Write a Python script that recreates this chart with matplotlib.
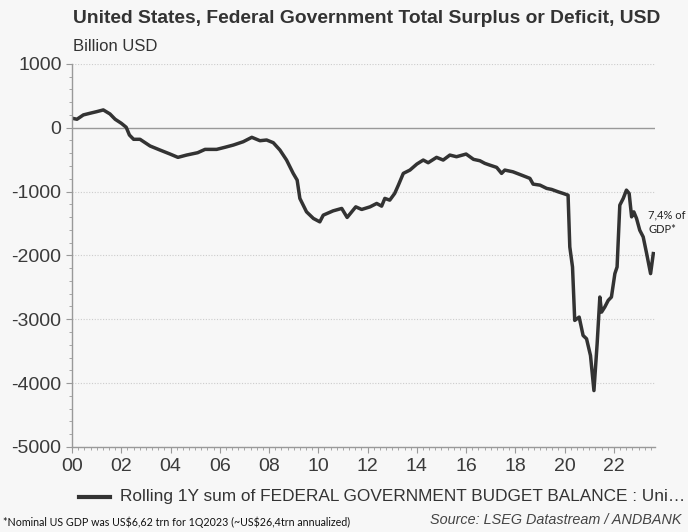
import numpy as np
import matplotlib
matplotlib.use("Agg")
import matplotlib.pyplot as plt
from matplotlib.ticker import MultipleLocator

# traced rolling 1Y budget balance, billion USD (x = decimal year)
years = [2000.0, 2000.2, 2000.46, 2000.73, 2001.0, 2001.27, 2001.54, 2001.75, 2002.0, 2002.2,
         2002.33, 2002.5, 2002.76, 2003.17, 2003.57, 2003.98, 2004.3, 2004.65, 2005.1, 2005.4,
         2005.87, 2006.2, 2006.55, 2006.95, 2007.3, 2007.63, 2007.9, 2008.17, 2008.44, 2008.71,
         2008.98, 2009.14, 2009.25, 2009.52, 2009.8, 2010.06, 2010.2, 2010.6, 2010.95, 2011.17,
         2011.52, 2011.76, 2012.1, 2012.37, 2012.57, 2012.7, 2012.9, 2013.1, 2013.25, 2013.45,
         2013.72, 2014.0, 2014.26, 2014.46, 2014.8, 2015.07, 2015.34, 2015.61, 2016.0, 2016.3,
         2016.56, 2016.76, 2016.96, 2017.24, 2017.44, 2017.57, 2017.9, 2018.25, 2018.59, 2018.72,
         2019.0, 2019.27, 2019.47, 2019.74, 2019.94, 2020.14, 2020.21, 2020.32, 2020.41, 2020.59,
         2020.75, 2020.89, 2021.05, 2021.19, 2021.32, 2021.43, 2021.5, 2021.63, 2021.77, 2021.9,
         2022.04, 2022.13, 2022.24, 2022.38, 2022.51, 2022.62, 2022.72, 2022.81, 2022.92, 2023.05,
         2023.19, 2023.33, 2023.49, 2023.6]
balance = [148, 132, 200, 226, 251, 278, 215, 132, 69, 6,
           -115, -182, -182, -287, -350, -413, -465, -429, -392, -340,
           -340, -308, -272, -220, -151, -204, -193, -235, -350, -507,
           -716, -821, -1108, -1318, -1422, -1475, -1370, -1303, -1265, -1406,
           -1240, -1281, -1240, -1187, -1229, -1108, -1135, -1030, -900, -716,
           -664, -570, -507, -549, -465, -507, -429, -455, -413, -496,
           -518, -559, -586, -622, -716, -664, -691, -743, -794, -884,
           -900, -951, -967, -1005, -1030, -1057, -1868, -2182, -3019, -2967,
           -3255, -3307, -3569, -4118, -3385, -2653, -2889, -2810, -2705, -2653,
           -2286, -2182, -1214, -1108, -978, -1030, -1397, -1319, -1422, -1606,
           -1711, -1972, -2286, -1972]
xtick_years = list(range(2000, 2023, 2))
xtick_labels = ["%02d" % (y % 100) for y in xtick_years]
ytick_vals = list(range(-5000, 1001, 1000))

bg = "#f7f7f7"
fig = plt.figure(figsize=(6.88, 5.32), dpi=100, facecolor=bg)
ax = fig.add_axes([0.1047, 0.160, 0.847, 0.720], facecolor=bg)

ax.plot(years, balance, color="#333333", lw=2.5, solid_joinstyle="round")
ax.axhline(0, color="#999999", lw=1, zorder=0)

ax.set_xlim(2000, 2023.66)
ax.set_ylim(-5000, 1000)
ax.set_xticks(xtick_years)
ax.set_xticklabels(xtick_labels)
ax.xaxis.set_minor_locator(MultipleLocator(0.25))
ax.set_yticks(ytick_vals)
ax.set_yticklabels([str(v) for v in ytick_vals])
ax.yaxis.set_minor_locator(MultipleLocator(200))

for v in ytick_vals:
    if v != 0:
        ax.axhline(v, color="#cccccc", lw=0.8, ls=(0, (1, 1.5)), zorder=0)

for s in ["top", "right"]:
    ax.spines[s].set_visible(False)
for s in ["left", "bottom"]:
    ax.spines[s].set_color("#999999")
    ax.spines[s].set_linewidth(1)

ax.tick_params(axis="both", which="major", colors="#999999", labelcolor="#3a3a3a",
               labelsize=14, length=4)
ax.tick_params(axis="both", which="minor", colors="#999999", length=2)
ax.tick_params(axis="x", pad=4)
for lab in ax.get_xticklabels() + ax.get_yticklabels():
    lab.set_family("Liberation Sans")

fig.text(0.106, 0.965, "United States, Federal Government Total Surplus or Deficit, USD",
         fontsize=13.9, fontweight="bold", family="Liberation Sans", color="#333333",
         va="center")
fig.text(0.106, 0.913, "Billion USD", fontsize=12, family="Liberation Sans",
         color="#333333", va="center")

ax.text(2023.4, -1480, "7,4% of\nGDP*", fontsize=8, family="Lato", color="#222222",
        va="center", ha="left", linespacing=1.3, clip_on=False)

# legend row
fig.lines.append(plt.Line2D([0.115, 0.160], [0.066, 0.066], transform=fig.transFigure,
                            color="#333333", lw=3))
fig.text(0.174, 0.066, "Rolling 1Y sum of FEDERAL GOVERNMENT BUDGET BALANCE : Uni…",
         fontsize=12.4, family="Liberation Sans", color="#333333", va="center")

fig.text(0.004, 0.019, r"*Nominal US GDP was US\$6,62 trn for 1Q2023 (~US\$26,4trn annualized)",
         fontsize=7.7, family="Lato", color="#111111", va="center")
fig.text(0.99, 0.023, "Source: LSEG Datastream / ANDBANK", fontsize=10.4, style="italic",
         family="Liberation Sans", color="#444444", va="center", ha="right")

fig.savefig("out.png", dpi=100, facecolor=bg)
